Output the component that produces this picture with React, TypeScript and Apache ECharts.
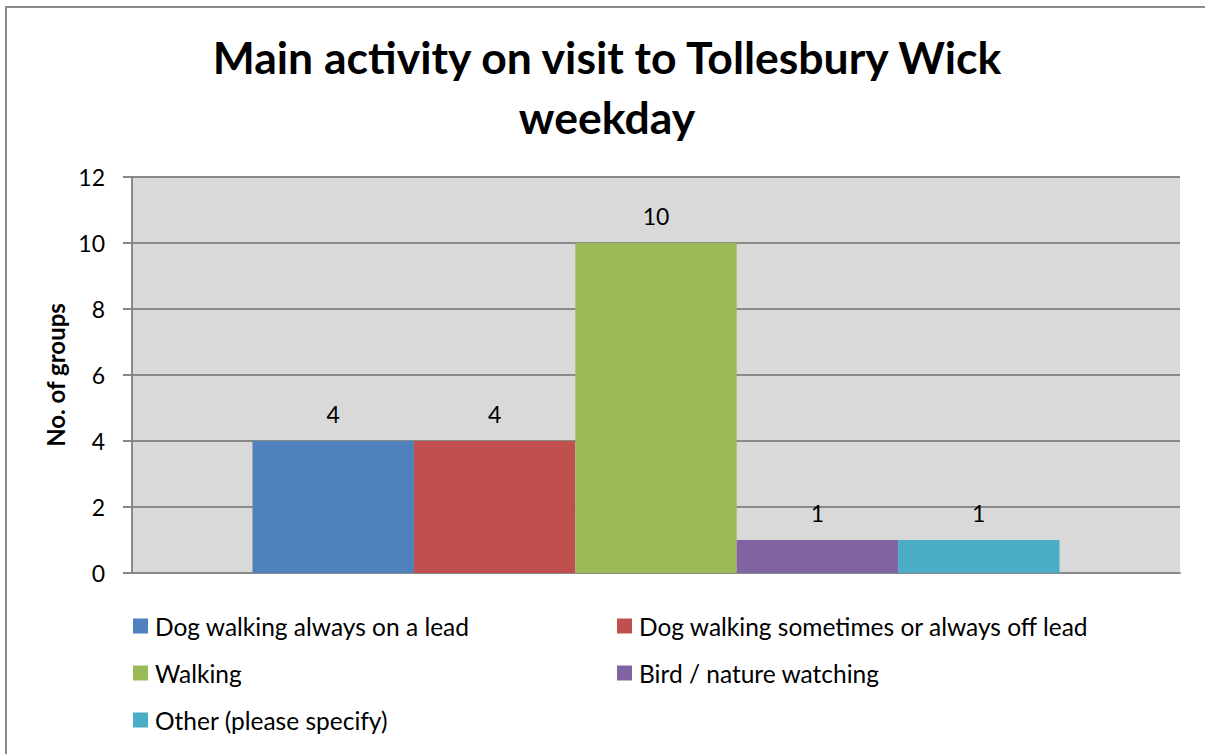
import React, { useEffect, useRef } from "react";
import * as echarts from "echarts";

const titleLines = ["Main activity on visit to Tollesbury Wick", "weekday"];
const categories = ["weekday"];
const seriesNames = [
  "Dog walking always on a lead",
  "Dog walking sometimes or always off lead",
  "Walking",
  "Bird / nature watching",
  "Other (please specify)",
];
const seriesValues = [4, 4, 10, 1, 1];
const seriesColors = ["#4f81bd", "#c0504d", "#9bbb59", "#8064a2", "#4bacc6"];
const yTicks = { min: 0, max: 12, interval: 2 };
const yAxisName = "No. of groups";

const FONT = "Lato, 'Open Sans', sans-serif";
const GRID_LINE = "#898989";

// legend slots: two columns, three rows
const legendSlots = [
  { left: 133, top: 613 },
  { left: 617, top: 613 },
  { left: 133, top: 660 },
  { left: 617, top: 660 },
  { left: 133, top: 707 },
];

export default function App() {
  const ref = useRef<HTMLDivElement>(null);

  useEffect(() => {
    if (!ref.current) return;
    const chart = echarts.init(ref.current, undefined, { renderer: "svg" });

    const option: echarts.EChartsOption = {
      animation: false,
      backgroundColor: "#ffffff",
      title: {
        text: titleLines.join("\n"),
        left: 607,
        textAlign: "center",
        top: 26,
        padding: 0,
        textStyle: {
          fontFamily: FONT,
          fontWeight: "bold",
          fontSize: 44.5,
          lineHeight: 60,
          color: "#000000",
        },
      },
      graphic: [
        {
          type: "rect",
          shape: { x: 6, y: 7, width: 1400, height: 900 },
          style: { fill: "none", stroke: "#8a8a8a", lineWidth: 2 },
          silent: true,
          z: 100,
        },
      ],
      grid: { left: 132, right: 25, top: 177, bottom: 181, show: true, backgroundColor: "#d9d9d9", borderWidth: 0 },
      xAxis: {
        type: "category",
        data: categories,
        axisLine: { show: true, lineStyle: { color: GRID_LINE, width: 2 } },
        axisTick: { show: false },
        axisLabel: { show: false },
        splitLine: { show: false },
      },
      yAxis: {
        type: "value",
        min: yTicks.min,
        max: yTicks.max,
        interval: yTicks.interval,
        name: yAxisName,
        nameLocation: "middle",
        nameGap: 64,
        nameTextStyle: { fontFamily: FONT, fontWeight: "bold", fontSize: 24, color: "#000000" },
        axisLine: { show: true, lineStyle: { color: GRID_LINE, width: 2 } },
        axisTick: { show: true, length: 9, lineStyle: { color: GRID_LINE, width: 2 } },
        axisLabel: { fontFamily: FONT, fontSize: 23, color: "#000000", margin: 27 },
        splitLine: { show: true, lineStyle: { color: GRID_LINE, width: 2 } },
      },
      legend: seriesNames.map((name, i) => ({
        data: [name],
        left: legendSlots[i].left,
        top: legendSlots[i].top,
        padding: 0,
        icon: "rect",
        itemWidth: 15,
        itemHeight: 15,
        selectedMode: false,
        textStyle: { fontFamily: FONT, fontSize: 24.5, lineHeight: 26, color: "#000000", padding: [0, 0, 0, 2] },
      })),
      series: seriesNames.map((name, i) => ({
        name,
        type: "bar",
        data: [seriesValues[i]],
        barGap: "0%",
        barCategoryGap: "23%",
        itemStyle: { color: seriesColors[i] },
        label: {
          show: true,
          position: "top",
          distance: 16,
          fontFamily: FONT,
          fontSize: 23,
          color: "#000000",
        },
      })),
    };

    chart.setOption(option);
    return () => chart.dispose();
  }, []);

  return <div ref={ref} style={{ position: "absolute", left: 0, top: 0, width: 1205, height: 754 }} />;
}
